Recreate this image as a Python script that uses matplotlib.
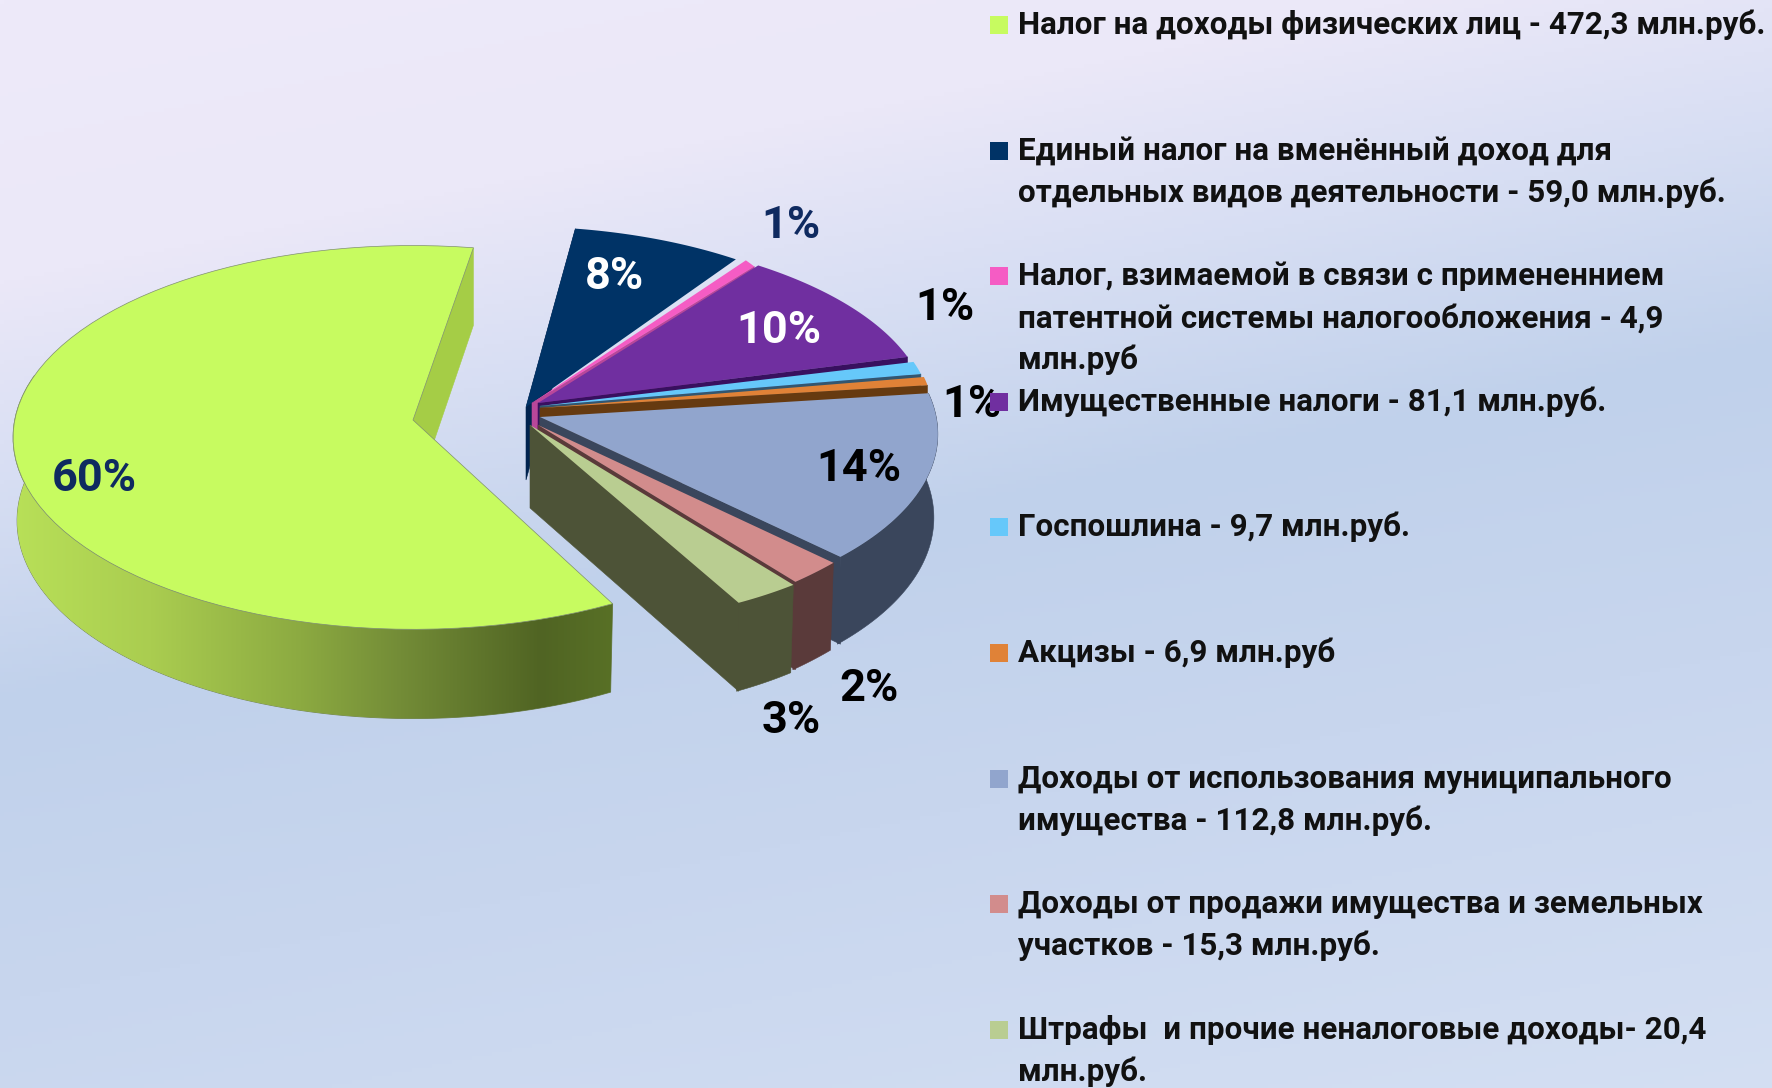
import numpy as np
import matplotlib
matplotlib.use('Agg')
import matplotlib.pyplot as plt
from matplotlib.patches import Polygon

plt.rcParams['font.family'] = ['Roboto', 'DejaVu Sans']

labels = [
    'Налог на доходы физических лиц - 472,3 млн.руб.',
    'Единый налог на вменённый доход для\nотдельных видов деятельности - 59,0 млн.руб.',
    'Налог, взимаемой в связи с примененнием\nпатентной системы налогообложения - 4,9\nмлн.руб',
    'Имущественные налоги - 81,1 млн.руб.',
    'Госпошлина - 9,7 млн.руб.',
    'Акцизы - 6,9 млн.руб',
    'Доходы от использования муниципального\nимущества - 112,8 млн.руб.',
    'Доходы от продажи имущества и земельных\nучастков - 15,3 млн.руб.',
    'Штрафы  и прочие неналоговые доходы- 20,4\nмлн.руб.',
]
values = [472.3, 59.0, 4.9, 81.1, 9.7, 6.9, 112.8, 15.3, 20.4]
top_colors = ['#c7fb60', '#003366', '#f55cc4', '#702fa0', '#66c8fa', '#e08237', '#91a5cd', '#d28c8c', '#b9cd91']
cut_colors = ['#a5cd46', '#00234f', '#b8479a', '#38105f', '#33566f', '#663a10', '#3a465c', '#5a3a3a', '#4d5337']
pct_colors = ['#0f2a60', 'white', '#0f2a60', 'white', 'black', 'black', 'black', 'black', 'black']
pct_pos = [(94, 479), (615, 277), (791, 226), (779, 331), (945, 308), (972, 405), (859, 469), (869, 689), (791, 721)]

# pie geometry in pixels, the slices were moved by hand in the original
center = (532, 428)
rx, ry, persp, depth = 405, 190, 0.07, 83
start_angle = 152
apex_shift = [(-119, -8), (-6, -21), (0, -25), (6, -25), (8, -22), (8, -20), (8, -11), (6, -3), (-2, -3)]
rim_start = [(-119, -4), (-18, -24), (-14, -23), (-14, -22), (-5, -21), (-3, -20), (-3, -14), (3, -8), (1, -3)]
rim_end = [(-119, -4), (-24, -24), (-18, -21), (-11, -26), (-6, -23), (-4, -22), (10, -14), (3, -6), (4, -4)]
x_scale = [0.985, 1, 1, 1, 1, 1, 1, 1, 1]
y_scale = [1.005, 1, 1, 1, 1, 1, 1, 1, 1]
bottom_shrink = 0.99

green_x = [14, 150, 300, 400, 540, 612]
green_rgb = [(184, 224, 88), (170, 205, 80), (140, 170, 65), (115, 140, 55), (80, 100, 35), (88, 112, 38)]

bg_t = [0, 280, 480, 700, 1000, 1450]
bg_rgb = [(238, 234, 250), (235, 232, 248), (215, 222, 243), (192, 209, 235), (200, 214, 238), (212, 223, 243)]


def rim(t0, t1, s0, s1, sx=1.0, sy=1.0):
    th = np.linspace(t0, t1, 80)
    f = np.linspace(0, 1, 80)
    u = np.sin(np.radians(th))
    v = np.cos(np.radians(th))
    w = 1 + persp * v
    x = center[0] + sx * rx * u / w + s0[0] + (s1[0] - s0[0]) * f
    y = center[1] - sy * ry * v / w + s0[1] + (s1[1] - s0[1]) * f
    return x, y, depth / w


fig = plt.figure(figsize=(17.72, 10.88), dpi=100)
ax = fig.add_axes([0, 0, 1, 1])

# background
xx, yy = np.meshgrid(np.arange(0, 1772, 4), np.arange(0, 1088, 4))
tt = yy + 0.2 * xx
bg = np.dstack([np.interp(tt, bg_t, [c[i] for c in bg_rgb]) for i in range(3)]) / 255
ax.imshow(bg, extent=(0, 1772, 1088, 0), aspect='auto', zorder=0)

angles = start_angle + np.concatenate([[0], np.cumsum(values)]) / sum(values) * 360

for i in range(len(values)):
    t0, t1 = angles[i], angles[i + 1]
    ax_, ay_ = center[0] + apex_shift[i][0], center[1] + apex_shift[i][1]
    x, y, d = rim(t0, t1, rim_start[i], rim_end[i], x_scale[i], y_scale[i])
    z = 2 + i

    # cut face at the clockwise end of the slice
    cut = [(ax_, ay_), (x[-1], y[-1]), (x[-1], y[-1] + d[-1]), (ax_, ay_ + depth)]
    if i == 1:
        # navy slice shows its other cut face on the left
        cut = [(ax_, ay_), (x[0], y[0]), (x[0], y[0] + d[0]), (ax_, ay_ + depth - 10)]
    ax.add_patch(Polygon(cut, closed=True, fc=cut_colors[i], ec=cut_colors[i], lw=0.4, zorder=z))

    # outer wall
    if i == 0:
        xs, ys, ds = rim(t0, 285, rim_start[i], rim_end[i], x_scale[i], y_scale[i])
        xb = ax_ + (xs - ax_) * bottom_shrink
        wall = np.vstack([np.c_[xs, ys], np.c_[xb, ys + ds][::-1]])
        patch = Polygon(wall, closed=True, fc='none', ec='#6f7f50', lw=0.6, zorder=z)
        ax.add_patch(patch)
        gx = np.arange(0, 640)
        grad = np.dstack([np.interp(gx, green_x, [c[k] for c in green_rgb]) for k in range(3)]) / 255
        im = ax.imshow(grad, extent=(0, 640, 720, 250), aspect='auto', zorder=z)
        im.set_clip_path(patch)
    elif t1 > 450:
        xb = ax_ + (x - ax_) * bottom_shrink
        wall = np.vstack([np.c_[x, y], np.c_[xb, y + d][::-1]])
        ax.add_patch(Polygon(wall, closed=True, fc=cut_colors[i], ec=cut_colors[i], lw=0.4, zorder=z))

    # top face
    top = np.vstack([[(ax_, ay_)], np.c_[x, y]])
    ec = '#7f8f70' if i == 0 else 'none'
    ax.add_patch(Polygon(top, closed=True, fc=top_colors[i], ec=ec, lw=0.5, zorder=z + 0.5))

# percent labels
for i, v in enumerate(values):
    ax.text(pct_pos[i][0], pct_pos[i][1], f'{round(v / sum(values) * 100)}%', color=pct_colors[i],
            fontsize=32.5, fontweight='bold', ha='center', va='center', zorder=20)

# legend
row_y = 25
for i, lab in enumerate(labels):
    ax.add_patch(Polygon([(990, row_y - 9), (1008, row_y - 9), (1008, row_y + 9), (990, row_y + 9)],
                         closed=True, fc=top_colors[i], ec='none', zorder=25))
    for j, line in enumerate(lab.split('\n')):
        ax.text(1018, row_y + 9 + j * 42, line, fontsize=22.6, fontweight='bold', color='#111111',
                ha='left', va='baseline', zorder=26)
    row_y += 125.6

ax.set_xlim(0, 1772)
ax.set_ylim(1088, 0)
ax.axis('off')
fig.savefig('out.png', dpi=100)
